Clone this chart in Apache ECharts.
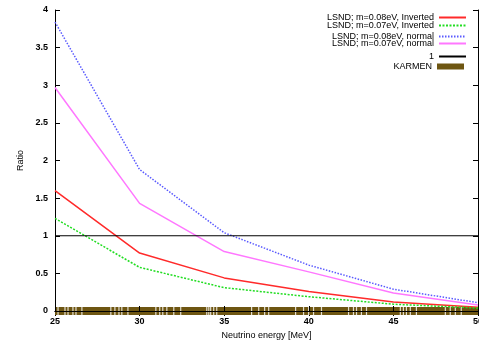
<!DOCTYPE html>
<html>
<head>
<meta charset="utf-8">
<script src="https://cdn.jsdelivr.net/npm/echarts@6/dist/echarts.min.js"></script>
<style>html,body{margin:0;padding:0;background:#fff;}#c{width:479px;height:344px;}</style>
</head>
<body>
<div id="c"></div>
<script>
const energies = [25, 30, 35, 40, 45, 50];
const lsnd08Inverted = [1.60, 0.77, 0.44, 0.26, 0.12, 0.05];
const lsnd07Inverted = [1.23, 0.58, 0.31, 0.19, 0.09, 0.04];
const lsnd08Normal = [3.84, 1.88, 1.04, 0.61, 0.29, 0.11];
const lsnd07Normal = [2.97, 1.43, 0.79, 0.52, 0.24, 0.08];
const oneLine = [1, 1];
const oneRange = [25, 50];
const karmenRange = [25, 50];
const karmenGaps = [25.18,25.59,25.77,26.06,26.24,26.59,28.30,28.54,28.78,28.95,29.31,
  30.96,31.19,31.37,31.61,32.02,32.43,33.97,34.09,34.20,34.38,34.56,
  36.62,37.04,37.39,37.63,39.22,39.69,39.99,40.28,40.75,
  42.35,42.64,42.82,43.11,43.41,45.41,45.59,45.77,46.00,46.36,
  48.07,48.36,48.66,49.01];

const names = ['LSND; m=0.08eV, Inverted','LSND; m=0.07eV, Inverted','LSND; m=0.08eV, normal','LSND; m=0.07eV, normal','1','KARMEN'];
const zip = (xs, ys) => xs.map((x, i) => [x, ys[i]]);
const font = 'Liberation Sans, Arial, sans-serif';
const brown = '#6e5612';

const legendTops = [13, 21, 32, 39, 52, 62];
const legends = names.map((n, i) => ({
  data: [n], right: 12, top: legendTops[i], orient: 'vertical', align: 'right',
  itemWidth: 27, itemHeight: 8, itemGap: 0, padding: 0,
  itemStyle: {opacity: 0},
  lineStyle: i === 5 ? {width: 6, color: brown} : {},
  textStyle: {fontSize: 9, fontFamily: font, color: '#000'},
  selectedMode: false
}));

const chart = echarts.init(document.getElementById('c'));
chart.setOption({
  animation: false,
  backgroundColor: '#fff',
  grid: {left: 55, right: 1, top: 10, bottom: 33, show: false, containLabel: false, outerBoundsMode: 'none'},
  legend: legends,
  xAxis: [{
    type: 'value', min: 25, max: 50, interval: 5, z: 5,
    name: 'Neutrino energy [MeV]', nameLocation: 'middle', nameGap: 19,
    nameTextStyle: {fontSize: 9, fontFamily: font, color: '#000'},
    axisLine: {lineStyle: {color: '#000', width: 1}},
    axisTick: {inside: true, length: 5, lineStyle: {color: '#000'}},
    axisLabel: {fontSize: 9, fontFamily: font, color: '#000', margin: 6, fontWeight: 'bold', hideOverlap: false},
    splitLine: {show: false}
  }, {
    type: 'value', min: 25, max: 50, interval: 5, position: 'top',
    axisLine: {lineStyle: {color: '#000', width: 1}},
    axisTick: {inside: true, length: 5, lineStyle: {color: '#000'}},
    axisLabel: {show: false}, splitLine: {show: false}
  }],
  yAxis: [{
    type: 'value', min: 0, max: 4, interval: 0.5,
    name: 'Ratio', nameLocation: 'middle', nameGap: 30, nameRotate: 90,
    nameTextStyle: {fontSize: 9, fontFamily: font, color: '#000'},
    axisLine: {show: true, lineStyle: {color: '#000', width: 1}},
    axisTick: {show: true, inside: true, length: 5, lineStyle: {color: '#000'}},
    axisLabel: {fontSize: 9, fontFamily: font, color: '#000', margin: 7, fontWeight: 'bold',
      formatter: v => String(v)},
    splitLine: {show: false}
  }, {
    type: 'value', min: 0, max: 4, interval: 0.5, position: 'right',
    axisLine: {show: true, lineStyle: {color: '#000', width: 1}},
    axisTick: {show: true, inside: true, length: 5, lineStyle: {color: '#000'}},
    axisLabel: {show: false}, splitLine: {show: false}
  }],
  series: [
    {name: names[0], type: 'line', symbol: 'none', data: zip(energies, lsnd08Inverted),
      lineStyle: {color: '#ff2a2a', width: 1.5}, itemStyle: {color: '#ff2a2a'}, z: 3},
    {name: names[1], type: 'line', symbol: 'none', data: zip(energies, lsnd07Inverted),
      lineStyle: {color: '#22dd22', width: 1.5, type: [2, 1.5]}, itemStyle: {color: '#22dd22'}, z: 3},
    {name: names[2], type: 'line', symbol: 'none', data: zip(energies, lsnd08Normal),
      lineStyle: {color: '#5a5aff', width: 1.5, type: [1.5, 1.5]}, itemStyle: {color: '#5a5aff'}, z: 3},
    {name: names[3], type: 'line', symbol: 'none', data: zip(energies, lsnd07Normal),
      lineStyle: {color: '#ff77ff', width: 1.5}, itemStyle: {color: '#ff77ff'}, z: 3},
    {name: names[4], type: 'line', symbol: 'none', data: zip(oneRange, oneLine),
      lineStyle: {color: '#000', width: 1.2}, itemStyle: {color: '#000'}, z: 3},
    {name: names[5], type: 'line', symbol: 'none', clip: false, data: zip(karmenRange, [0, 0]),
      lineStyle: {color: brown, width: 8}, itemStyle: {color: brown}, z: 2},
    {name: 'KARMEN gaps', type: 'scatter', symbol: 'rect', symbolSize: [1.2, 8], clip: false,
      data: karmenGaps.map(e => [e, 0]), itemStyle: {color: '#fff'}, z: 2.5, silent: true}
  ]
});
</script>
</body>
</html>
